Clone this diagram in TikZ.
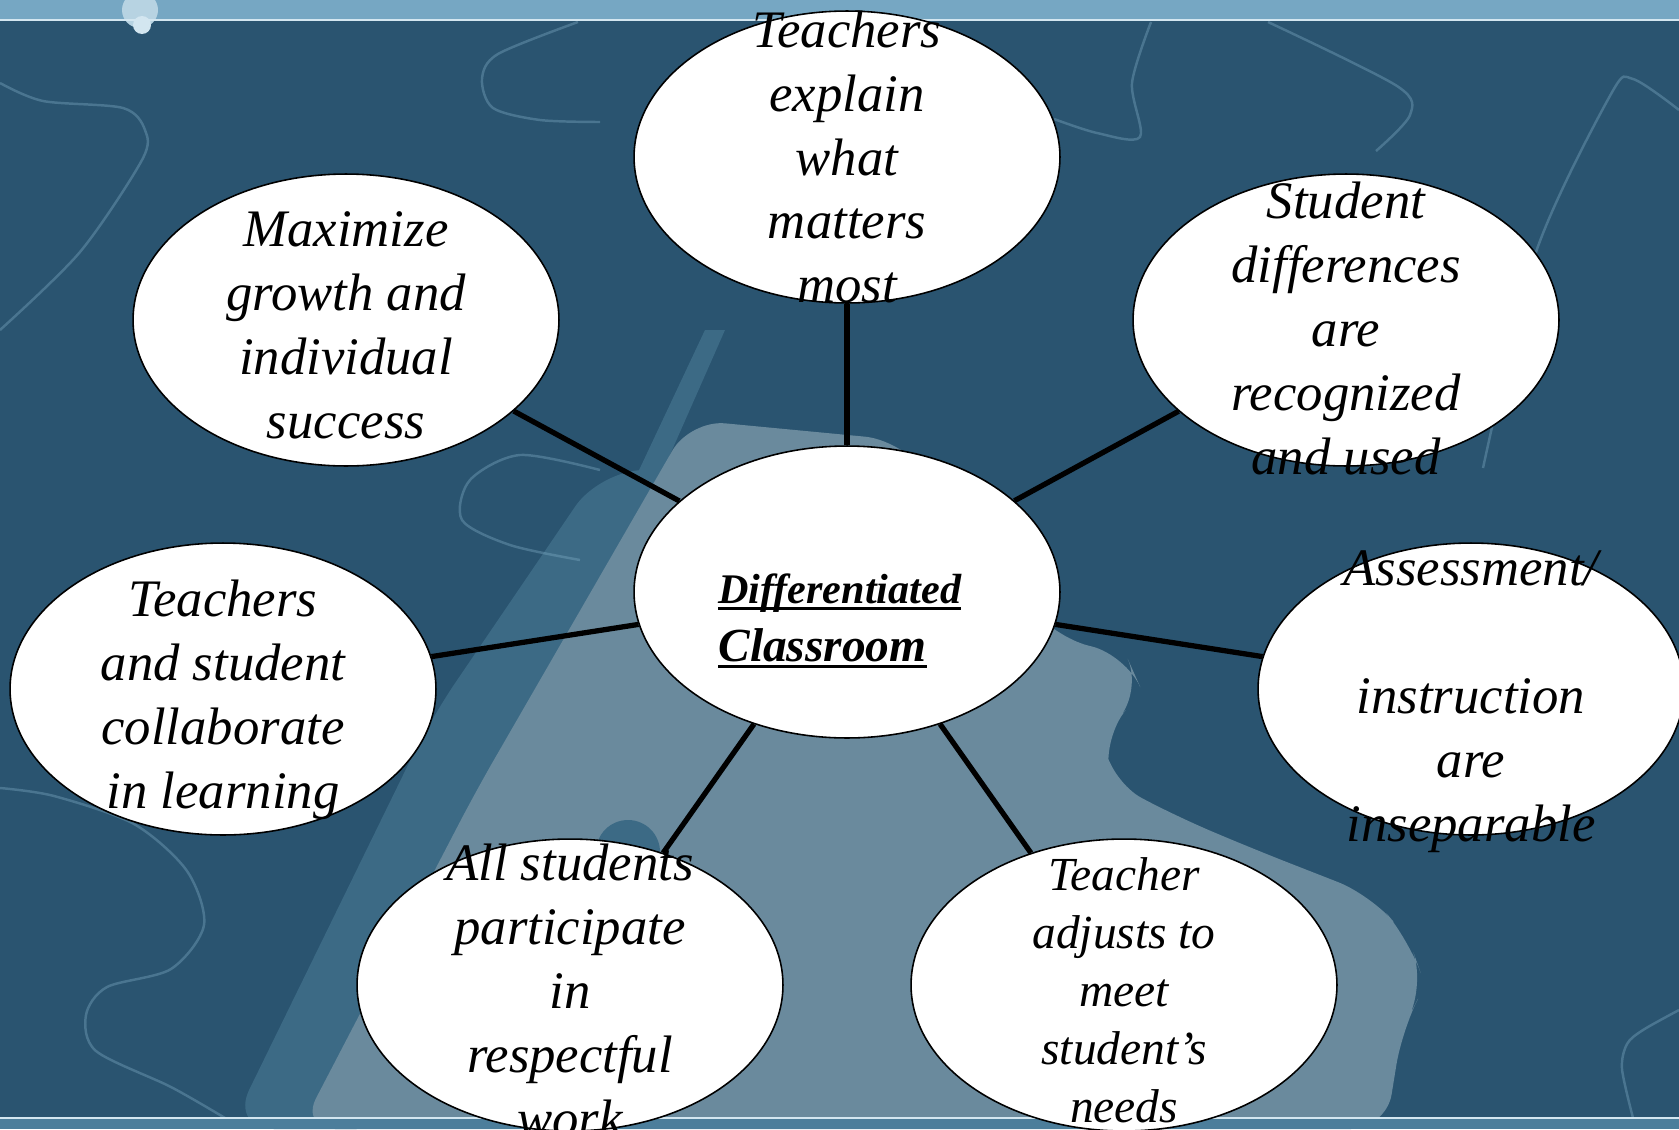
\documentclass[tikz,border=0pt]{standalone}
\usepackage{fontspec}
\setmainfont{Liberation Serif}
\usetikzlibrary{shapes.geometric}

\definecolor{bgdark}{HTML}{2A5470}
\definecolor{bgmid}{HTML}{3C6A85}
\definecolor{bglight}{HTML}{6A8A9D}
\definecolor{bandtop}{HTML}{76A7C3}
\definecolor{bandbot}{HTML}{4C7E9B}
\definecolor{edgeline}{HTML}{D3E6F0}
\definecolor{glow}{HTML}{86B4CC}

\newsavebox{\clsbox}
\newcommand{\clsline}[1]{\sbox{\clsbox}{#1}\smash{\rlap{\rule[-3.8pt]{\wd\clsbox}{1.5pt}}\usebox{\clsbox}}}

\tikzset{
  bubble/.style = {ellipse, draw = black, line width = 0.9pt, fill = white,
    minimum width = 8.52cm, minimum height = 5.84cm, inner sep = 0pt},
  bubtext/.style = {align = center, inner sep = 0pt, yshift = -3pt,
    font = \itshape\fontsize{30}{36.4}\selectfont},
  spoke/.style = {line width = 3pt},
  glowline/.style = {glow, line width = 1.4pt, opacity = 0.35},
}

\begin{document}
\begin{tikzpicture}[x=0.02cm, y=-0.02cm]
    \useasboundingbox (0, 0) rectangle (1679, 1129);
    % background
    \fill [bgdark] (0, 0) rectangle (1679, 1129);
    \fill [bgmid, rounded corners=25pt] (230, 1129) -- (430, 720) -- (600, 470) -- (720, 470) -- (720, 700) -- (400, 1129) -- cycle;
    \fill [bgmid] (705, 330) -- (725, 330) -- (650, 500) -- (625, 500) -- cycle;
    \fill [bglight, rounded corners=20pt] (300, 1129) -- (476, 791) -- (690, 420) -- (900, 440) -- (1054, 637) -- (1126, 655) -- (1142, 691) -- (1103, 737) -- (1111, 782) -- (1180, 818) -- (1256, 850) -- (1371, 895) -- (1409, 940) -- (1425, 985) -- (1402, 1030) -- (1386, 1129) -- cycle;
    \fill [bgmid] (628, 852) circle [radius=32];
    \draw [glowline] plot [smooth] coordinates {(0, 83) (43, 101) (123, 108) (145, 130) (142, 160) (80, 252) (0, 330)};
    \draw [glowline] plot [smooth] coordinates {(578, 22) (498, 54) (482, 79) (493, 108) (540, 120) (600, 122)};
    \draw [glowline] plot [smooth] coordinates {(600, 470) (520, 455) (470, 480) (462, 520) (510, 545) (580, 560)};
    \draw [glowline] plot [smooth] coordinates {(1151, 22) (1132, 83) (1140, 137) (1097, 133) (1054, 119)};
    \draw [glowline] plot [smooth] coordinates {(1268, 22) (1397, 86) (1410, 115) (1376, 151)};
    \draw [glowline] plot [smooth] coordinates {(1679, 110) (1633, 79) (1611, 94) (1536, 252) (1483, 468)};
    \draw [glowline] plot [smooth] coordinates {(0, 788) (54, 796) (134, 824) (187, 871) (204, 925) (171, 969) (107, 987) (86, 1015) (96, 1051) (171, 1087) (225, 1118)};
    \draw [glowline] plot [smooth] coordinates {(1679, 1010) (1643, 1030) (1627, 1044) (1622, 1069) (1633, 1118)};
    \fill [bandtop] (0, 0) rectangle (1679, 20);
    \fill [edgeline!70!bandtop] (140, 10) circle [radius=18];
    \fill [edgeline] (142, 25) circle [radius=9];
    \draw [edgeline, line width=1.2pt] (0, 20)--(1679, 20);
    \fill [bandbot] (0, 1118) rectangle (1679, 1129);
    \draw [edgeline, line width=1.2pt] (0, 1118)--(1679, 1118);

    % bubbles
    \node [bubble] (cls) at (847, 592) {};
    \node [bubble] (expl) at (847, 157) {};
    \node [bubble] (maxg) at (346, 320) {};
    \node [bubble] (diff) at (1346, 320) {};
    \node [bubble] (collab) at (223, 689) {};
    \node [bubble] (asmt) at (1471, 689) {};
    \node [bubble] (part) at (570, 985) {};
    \node [bubble] (adjt) at (1124, 985) {};

    \foreach \b in {expl, maxg, diff, collab, asmt, part, adjt}
        \draw [spoke] (cls)--(\b);

    % texts
    \node [bubtext, yshift=3pt] at (expl) {Teachers\\explain\\what\\matters\\most};
    \node [bubtext] at (maxg) {Maximize\\growth and\\individual\\success};
    \node [bubtext, yshift=-2pt] at (diff) {Student\\differences\\are\\recognized\\and used};
    \node [bubtext, yshift=-3pt] at (collab) {Teachers\\and student\\collaborate\\in learning};
    \node [bubtext, yshift=-4pt] at (asmt) {Assessment/\\[36.4pt]instruction\\are\\inseparable};
    \node [bubtext] at (part) {All students\\participate\\in\\respectful\\work};
    \node [bubtext, font=\itshape\fontsize{27}{33}\selectfont] at (adjt) {Teacher\\adjusts to\\meet\\student’s\\needs};
    \node [anchor=north west, align=left, inner sep=0pt, font=\bfseries\itshape\fontsize{24}{33}\selectfont] at (718, 603) {\clsline{Differentiated}\\{\fontsize{27}{33}\selectfont\clsline{Classroom}}};
\end{tikzpicture}
\end{document}
